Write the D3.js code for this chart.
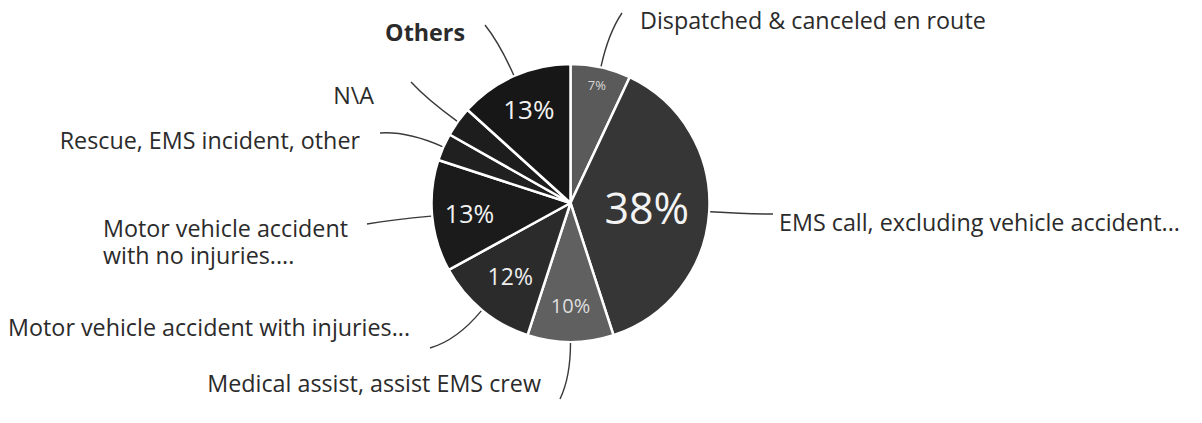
<!DOCTYPE html>
<html><head><meta charset="utf-8">
<script src="https://cdn.jsdelivr.net/npm/d3@7"></script>
<style>
html,body{margin:0;padding:0;background:#fff;}
svg{display:block;font-family:"Open Sans",sans-serif;}
</style></head>
<body><svg id="c" width="1202" height="423"></svg>
<script>
// ---- data ----
const categories = [
  "Dispatched & canceled en route",
  "EMS call, excluding vehicle accident...",
  "Medical assist, assist EMS crew",
  "Motor vehicle accident with injuries...",
  "Motor vehicle accident with no injuries....",
  "Rescue, EMS incident, other",
  "N\\A",
  "Others"
];
const values = [7, 38, 10, 12, 13, 3.2, 3.5, 13.3];
const pctLabels = ["7%", "38%", "10%", "12%", "13%", "", "", "13%"];

// ---- layout / style ----
const colors = ["#5a5a5a", "#363636", "#606060", "#2b2b2b", "#1b1b1b", "#202020", "#1d1d1d", "#171717"];
const cx = 570.5, cy = 203, R = 139;
const labelLines = [
  ["Dispatched & canceled en route"],
  ["EMS call, excluding vehicle accident..."],
  ["Medical assist, assist EMS crew"],
  ["Motor vehicle accident with injuries..."],
  ["Motor vehicle accident", "with no injuries...."],
  ["Rescue, EMS incident, other"],
  ["N\\A"],
  ["Others"]
];
const labelPos = [
  {x: 640, y: 20, anchor: "start"},
  {x: 779, y: 222, anchor: "start"},
  {x: 541, y: 383, anchor: "end"},
  {x: 410, y: 327, anchor: "end"},
  {x: 103, y: 228, anchor: "start"},
  {x: 360, y: 140, anchor: "end"},
  {x: 374, y: 95, anchor: "end"},
  {x: 465, y: 32, anchor: "end", bold: true}
];
const leaderEnds = [[622,13],[773,214],[560,399],[430,348],[367,224],[380,133],[411,82],[485,25]];
const pctStyle = [
  {size: 13, fill: "#d8d8d8", r: 0.87},
  {size: 43, fill: "#f4f4f4", r: 0.55},
  {size: 20, fill: "#dedede", r: 0.74},
  {size: 23, fill: "#eeeeee", r: 0.68},
  {size: 25, fill: "#f2f2f2", r: 0.73},
  {size: 12, fill: "#fff", r: 0.7},
  {size: 12, fill: "#fff", r: 0.7},
  {size: 26, fill: "#f2f2f2", r: 0.74}
];

const svg = d3.select("#c");
const g = svg.append("g").attr("transform", `translate(${cx},${cy})`);
const pie = d3.pie().sort(null).value(d => d)(values);
const arc = d3.arc().innerRadius(0).outerRadius(R);

g.selectAll("path.slice").data(pie).join("path")
  .attr("class", "slice")
  .attr("d", arc)
  .attr("fill", (d, i) => colors[i])
  .attr("stroke", "#fff")
  .attr("stroke-width", 2.5)
  .attr("stroke-linejoin", "round");

// percentage labels
g.selectAll("text.pct").data(pie).join("text")
  .attr("class", "pct")
  .attr("transform", (d, i) => {
    const a = (d.startAngle + d.endAngle) / 2;
    const rr = R * pctStyle[i].r;
    return `translate(${rr * Math.sin(a)},${-rr * Math.cos(a)})`;
  })
  .attr("text-anchor", "middle")
  .attr("dominant-baseline", "central")
  .attr("font-size", (d, i) => pctStyle[i].size)
  .attr("fill", (d, i) => pctStyle[i].fill)
  .text((d, i) => pctLabels[i]);

// leader lines
svg.selectAll("path.leader").data(pie).join("path")
  .attr("class", "leader")
  .attr("d", (d, i) => {
    const a = (d.startAngle + d.endAngle) / 2;
    const ux = Math.sin(a), uy = -Math.cos(a);
    const sx = cx + (R + 1) * ux, sy = cy + (R + 1) * uy;
    const [ex, ey] = leaderEnds[i];
    const dist = Math.hypot(ex - sx, ey - sy);
    const qx = sx + ux * dist * 0.6, qy = sy + uy * dist * 0.6;
    return `M${sx},${sy}Q${qx},${qy} ${ex},${ey}`;
  })
  .attr("fill", "none")
  .attr("stroke", "#3a3a3a")
  .attr("stroke-width", 1.4);

// category labels
labelLines.forEach((lines, i) => {
  const p = labelPos[i];
  lines.forEach((ln, k) => {
    svg.append("text")
      .attr("x", p.x).attr("y", p.y + k * 27)
      .attr("text-anchor", p.anchor)
      .attr("dominant-baseline", "central")
      .attr("font-size", 23.3)
      .attr("font-weight", p.bold ? 700 : 400)
      .attr("fill", "#2b2b2b")
      .text(ln);
  });
});
</script></body></html>
